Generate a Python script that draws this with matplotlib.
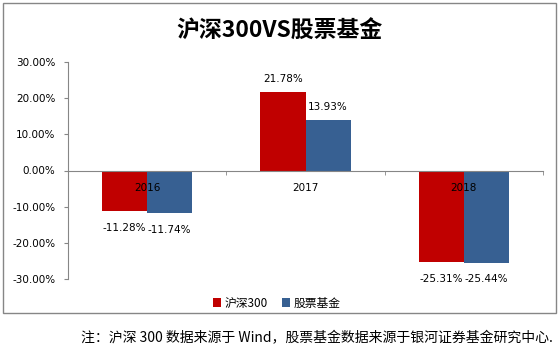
import matplotlib
matplotlib.use("Agg")
import matplotlib.pyplot as plt
from matplotlib.patches import Rectangle
from matplotlib.ticker import FuncFormatter, FixedLocator
import numpy as np

plt.rcParams['font.family'] = ['DejaVu Sans', 'Noto Sans CJK SC']
cjk = ['Noto Sans CJK SC', 'DejaVu Sans']

# data
years = ['2016', '2017', '2018']
hs300 = [-11.28, 21.78, -25.31]
stock_fund = [-11.74, 13.93, -25.44]
series_names = ['沪深300', '股票基金']
colors = ['#C00000', '#376092']

W, H = 559, 353
fig = plt.figure(figsize=(W / 100, H / 100), dpi=100)

# outer border
fig.patches.append(Rectangle((3 / W, 1 - 313 / H), 553 / W, 310 / H,
                             transform=fig.transFigure, fill=False,
                             edgecolor='#868686', linewidth=1))

ax = fig.add_axes([68 / W, 1 - 279 / H, (543 - 68) / W, (279 - 62) / H])

x = np.arange(len(years))
bw = 0.285
b1 = ax.bar(x - bw / 2, hs300, bw, color=colors[0], label=series_names[0])
b2 = ax.bar(x + bw / 2, stock_fund, bw, color=colors[1], label=series_names[1])

for bars, vals in ((b1, hs300), (b2, stock_fund)):
    for rect, v in zip(bars, vals):
        off = 9.5 if v > 0 else -12
        ax.annotate(f'{v:.2f}%', (rect.get_x() + rect.get_width() / 2, v),
                    xytext=(0, off), textcoords='offset points',
                    ha='center', va='center', fontsize=7.5)

ax.set_xlim(-0.5, 2.5)
ax.set_ylim(-30, 30)
ax.set_yticks(np.arange(-30, 31, 10))
ax.yaxis.set_major_formatter(FuncFormatter(lambda v, p: f'{v:.2f}%'))

ax.set_xticks(x)
ax.set_xticklabels(years)
ax.xaxis.set_minor_locator(FixedLocator([-0.5, 0.5, 1.5, 2.5]))
ax.tick_params(axis='x', which='major', length=0, pad=9, labelsize=7.5)
ax.tick_params(axis='x', which='minor', length=3, color='#868686', direction='out')
ax.tick_params(axis='y', length=3, color='#868686', labelsize=7.5, pad=6)

for s in ('top', 'right'):
    ax.spines[s].set_visible(False)
ax.spines['bottom'].set_position(('data', 0))
ax.spines['bottom'].set_color('#868686')
ax.spines['left'].set_color('#868686')

fig.text(279 / W, 1 - 31 / H, '沪深300VS股票基金', ha='center', va='center',
         fontsize=16.5, fontweight='bold', family=cjk)

fig.legend(loc='center', bbox_to_anchor=(277 / W, 1 - 303 / H), ncol=2,
           frameon=False, handlelength=0.7, handleheight=0.7,
           handletextpad=0.3, columnspacing=1.2, prop={'family': cjk, 'size': 8.5})

fig.text(553 / W, 1 - 338 / H,
         '注：沪深 300 数据来源于 Wind，股票基金数据来源于银河证券基金研究中心.',
         ha='right', va='center', fontsize=10, family=cjk)

fig.savefig('out.png', dpi=100)
